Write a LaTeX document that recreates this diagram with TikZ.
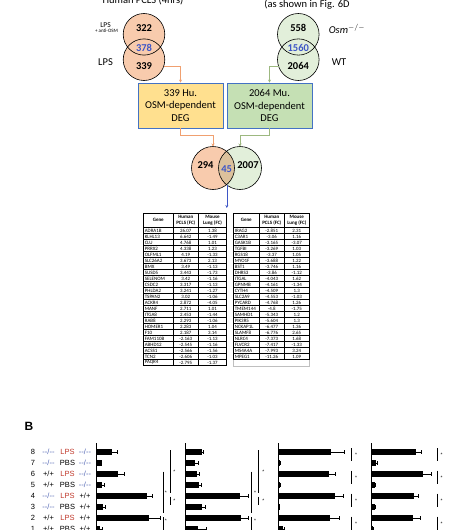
\documentclass[tikz,border=0pt]{standalone}
\usepackage{fontspec}
\setmainfont{Carlito}
\newfontfamily\arialfont{Liberation Sans}
\usetikzlibrary{arrows.meta}

\definecolor{hufill}{HTML}{F8CBAD}
\definecolor{mufill}{HTML}{E2EFDA}
\definecolor{bothfill}{HTML}{DCC19C}
\definecolor{huboxfill}{HTML}{FFE08F}
\definecolor{muboxfill}{HTML}{C5E0B4}
\definecolor{boxblue}{HTML}{4472C4}
\definecolor{huline}{HTML}{F0A070}
\definecolor{muline}{HTML}{9DB880}
\definecolor{numblue}{HTML}{3E56C6}
\definecolor{lpsred}{HTML}{C0392B}
\definecolor{koblue}{HTML}{4A5FB0}

\newcommand{\ko}{{\color{koblue}--/--}}
\newcommand{\wt}{+/+}
\newcommand{\lps}{{\color{lpsred}LPS}}
\newcommand{\pbs}{PBS}

\begin{document}
\begin{tikzpicture}[x=1pt, y=-1pt,
  vennnum/.style={font=\fontsize{10.5}{12}\selectfont\bfseries, inner sep=0pt},
  bothnum/.style={vennnum, text=numblue},
  degbox/.style={draw=boxblue, line width=0.9pt, minimum width=85pt, minimum height=45pt,
    align=center, inner sep=1pt, font=\fontsize{10.5}{12.5}\selectfont},
  feed/.style={line width=0.6pt, -{Stealth[length=3pt,width=3pt]}},
  genecell/.style={anchor=west, inner sep=0pt, font=\fontsize{5}{5}\selectfont},
  numcell/.style={inner sep=0pt, font=\fontsize{4.9}{5}\selectfont},
  headcell/.style={inner sep=0pt, align=center, font=\fontsize{5}{5.6}\selectfont\bfseries},
  rowlab/.style={inner sep=0pt, font=\arialfont\fontsize{7.5}{8}\selectfont},
  errbar/.style={line width=0.6pt},
  sigline/.style={line width=0.8pt},
  star/.style={inner sep=0pt, font=\arialfont\fontsize{5}{5}\selectfont}]
  \useasboundingbox (0,0) rectangle (457,530);
  \clip (0,0) rectangle (457,530);

  % titles (cut at the top)
  \node[anchor=base, font=\fontsize{10.5}{12}\selectfont] (hutitle) at (143,3) {Human PCLS (4hrs)};
  \node[anchor=base, font=\fontsize{10.5}{12}\selectfont] (mutitle) at (307,7.5) {(as shown in Fig. 6D};

  % human venn
  \fill[hufill] (144,34.3) circle (20.8pt);
  \fill[hufill] (144,59.7) circle (20.8pt);
  \draw[line width=0.6pt] (144,34.3) circle (20.8pt) (144,59.7) circle (20.8pt);
  \node[vennnum] (hutop) at (144,28.3) {322};
  \node[bothnum] (huboth) at (144,47.7) {378};
  \node[vennnum] (hubot) at (144,65.7) {339};
  \node[inner sep=0pt, font=\fontsize{7.5}{8}\selectfont] (hulps1) at (105.5,25) {LPS};
  \node[inner sep=0pt, font=\fontsize{5}{5}\selectfont] (huanti) at (106.5,31) {+ anti-OSM};
  \node[inner sep=0pt, font=\fontsize{10.5}{12}\selectfont] (hulps2) at (105.5,62) {LPS};

  % mouse venn
  \fill[mufill] (298.3,34.3) circle (20.8pt);
  \fill[mufill] (298.3,59.7) circle (20.8pt);
  \draw[line width=0.6pt] (298.3,34.3) circle (20.8pt) (298.3,59.7) circle (20.8pt);
  \node[vennnum] (mutop) at (298.3,28.3) {558};
  \node[bothnum] (muboth) at (298.3,47.7) {1560};
  \node[vennnum] (mubot) at (298.3,65.7) {2064};
  \node[inner sep=0pt, font=\fontsize{10.5}{12}\selectfont\itshape] (muko) at (347,29.3) {Osm$^{-/-}$};
  \node[inner sep=0pt, font=\fontsize{10.5}{12}\selectfont] (muwt) at (339,62) {WT};

  % DEG boxes
  \node[degbox, fill=huboxfill] (hudeg) at (180.5,105.5) {339 Hu.\\OSM-dependent\\DEG};
  \node[degbox, fill=muboxfill] (mudeg) at (269.5,105.5) {2064 Mu.\\OSM-dependent\\DEG};
  \coordinate (huout) at (164,66);
  \coordinate (muout) at (278.5,66);
  \draw[feed, huline] (huout) -| (hudeg.north);
  \draw[feed, muline] (muout) -| (mudeg.north);

  % comparison venn
  \coordinate (cmpl) at (213,146.5);
  \coordinate (cmpr) at (240,146.5);
  \fill[hufill] (213,168) circle (21.5pt);
  \fill[mufill] (240,168) circle (21.5pt);
  \begin{scope}
    \clip (213,168) circle (21.5pt);
    \fill[bothfill] (240,168) circle (21.5pt);
  \end{scope}
  \draw[line width=0.6pt] (213,168) circle (21.5pt) (240,168) circle (21.5pt);
  \node[vennnum] (cmphu) at (205.5,165) {294};
  \node[bothnum] (cmpboth) at (226.7,169.5) {45};
  \node[vennnum] (cmpmu) at (248,165) {2007};
  \draw[feed, huline] (hudeg.south) -- ++(0,7) -| (cmpl);
  \draw[feed, muline] (mudeg.south) -- ++(0,7) -| (cmpr);
  \coordinate (cmpout) at (226.8,185);
  \coordinate (tabin) at (226.8,208);
  \draw[feed, numblue] (cmpout) -- (tabin);

  % gene tables
  \node[headcell] (lhg) at (158.3,220.3) {Gene};
  \node[headcell] (lhh) at (185.8,220.3) {Human\\PCLS (FC)};
  \node[headcell] (lhm) at (212.5,220.3) {Mouse\\Lung (FC)};
  \foreach \g/\h/\m [count=\i] in {ADRA1B/26.07/1.38, KLHL13/6.642/-1.49, CLU/4.768/1.01,
      PRRX2/4.338/1.23, OLFML1/4.19/-1.33, SLC26A2/3.673/2.13, BMX/3.49/-1.13,
      SUSD5/3.443/-1.73, SELENOM/3.42/-1.16, CSDC2/3.317/-1.13, PHLDA2/3.241/-1.27,
      TSPAN2/3.02/-1.06, ACKR4/2.872/-4.05, MANF/2.711/1.01, ITGA8/2.453/-1.44,
      RAB8/2.293/-1.06, HOMER1/2.283/1.04, F10/2.187/3.14, FAM110B/-2.163/-1.13,
      ABHD12/-2.545/-1.16, ACSS1/-2.566/-1.56, TCN2/-2.606/-1.03, PAQR4/-2.795/-1.37} {
    \node[genecell] (lg\i) at (144.6,224.7+6*\i) {\g};
    \node[numcell] (lh\i) at (185.8,224.7+6*\i) {\h};
    \node[numcell] (lm\i) at (212.5,224.7+6*\i) {\m};
  }
  \foreach \i in {0,...,23}
    \draw[line width=0.45pt] (143.3,227.7+6*\i) -- (226.7,227.7+6*\i);
  \draw[line width=0.45pt] (143.3,213) -- (226.7,213);
  \foreach \x in {143.3,173.3,198.3,226.7}
    \draw[line width=0.45pt] (\x,213) -- (\x,365.7);

  \node[headcell] (rhg) at (246.3,220.3) {Gene};
  \node[headcell] (rhh) at (271.8,220.3) {Human\\PCLS (FC)};
  \node[headcell] (rhm) at (296.8,220.3) {Mouse\\Lung (FC)};
  \foreach \g/\h/\m [count=\i] in {IRAG2/-2.851/2.31, C3AR1/-3.06/1.16, GASK1B/-3.165/-3.07,
      TGFBI/-3.269/1.03, RGS18/-3.37/1.05, MYO1F/-3.688/1.22, BST1/-3.746/1.16,
      DHRS3/-3.86/-1.12, ITGAL/-4.043/1.62, GPNMB/-4.161/-1.34, CYTH4/-4.509/1.3,
      SLC2A9/-4.553/-1.03, PYCARD/-4.768/1.26, TMEM144/-4.8/-1.75, SAMHD1/-5.343/1.2,
      PIK3R5/-5.604/1.3, NCKAP1L/-6.477/1.36, SLAMF8/-6.776/2.65, NLRC4/-7.373/1.68,
      FLVCR2/-7.417/-1.33, MS4A4A/-7.993/3.24, MPEG1/-11.26/1.09} {
    \node[genecell] (rg\i) at (234.6,224.7+6*\i) {\g};
    \node[numcell] (rh\i) at (271.8,224.7+6*\i) {\h};
    \node[numcell] (rm\i) at (296.8,224.7+6*\i) {\m};
  }
  \foreach \i in {0,...,22}
    \draw[line width=0.45pt] (233.3,227.7+6*\i) -- (309.3,227.7+6*\i);
  \draw[line width=0.45pt] (233.3,213) -- (309.3,213);
  \foreach \x in {233.3,259.3,284.3,309.3}
    \draw[line width=0.45pt] (\x,213) -- (\x,359.7);
  \draw[black!25, line width=0.4pt] (233.3,359.7) -- (233.3,365.7) -- (309.3,365.7) -- (309.3,359.7);

  % panel B
  \node[inner sep=0pt, font=\arialfont\fontsize{12}{12}\selectfont\bfseries] (blabel) at (29,426.7) {B};
  \foreach \r/\ga/\tr/\gb in {8/\ko/\lps/\ko, 7/\ko/\pbs/\ko, 6/\wt/\lps/\ko, 5/\wt/\pbs/\ko,
      4/\ko/\lps/\wt, 3/\ko/\pbs/\wt, 2/\wt/\lps/\wt, 1/\wt/\pbs/\wt} {
    \node[rowlab] (num\r) at (33,540-11*\r) {\r};
    \node[rowlab] (gena\r) at (48.5,540-11*\r) {\ga};
    \node[rowlab] (trt\r) at (67.5,540-11*\r) {\tr};
    \node[rowlab] (genb\r) at (85,540-11*\r) {\gb};
  }

  % bars, panel 1 to 4
  \foreach \r/\v/\e in {8/112/117, 7/101.7/101.7, 6/118.3/124.3, 5/101.7/104.3,
      4/146.7/152.3, 3/102.7/105.3, 2/149/160.7, 1/100/102} {
    \fill (96.7,536.7-11*\r) rectangle (\v,543.3-11*\r);
    \draw[errbar] (\v,540-11*\r) -- (\e,540-11*\r) ++(0,-2) -- ++(0,4);
  }
  \foreach \r/\v/\e in {8/201.7/203.3, 7/195/198.3, 6/196.7/199.3, 5/199.3/201.7,
      4/240/248.3, 3/201.7/205.7, 2/241/248.3, 1/198.3/206} {
    \fill (185.7,536.7-11*\r) rectangle (\v,543.3-11*\r);
    \draw[errbar] (\v,540-11*\r) -- (\e,540-11*\r) ++(0,-2) -- ++(0,4);
  }
  \foreach \r/\v/\e in {8/331/344.3, 7/280/280, 6/329.3/335.7, 5/280/280,
      4/335/343, 3/279.7/279.7, 2/330/339.7, 1/283/284} {
    \fill (278.3,536.7-11*\r) rectangle (\v,543.3-11*\r);
    \draw[errbar] (\v,540-11*\r) -- (\e,540-11*\r) ++(0,-2) -- ++(0,4);
  }
  \foreach \r/\v/\e in {8/415.7/421.7, 7/376/377, 6/422.7/431.7, 5/375/375,
      4/414/418.3, 3/375/375, 2/413.3/420, 1/373/373} {
    \fill (371.7,536.7-11*\r) rectangle (\v,543.3-11*\r);
    \draw[errbar] (\v,540-11*\r) -- (\e,540-11*\r) ++(0,-2) -- ++(0,4);
  }
  \foreach \x in {96.7,185.7,278.3,371.7}
    \draw[line width=1.3pt] (\x,443) -- (\x,535);

  % significance marks
  \draw[sigline] (170.7,450) -- (170.7,493.3) (170.7,496.7) -- (170.7,505);
  \draw[sigline] (163.3,471.7) -- (163.3,513) (163.3,517) -- (163.3,532);
  \node[star] (s11) at (174.3,471.7) {*};
  \node[star] (s12) at (174.3,501) {*};
  \node[star] (s13) at (165.9,492.3) {*};
  \node[star] (s14) at (165.9,520.5) {*};
  \draw[sigline] (258.3,450) -- (258.3,493.3) (258.3,496.7) -- (258.3,505);
  \draw[sigline] (251.7,471.7) -- (251.7,513) (251.7,517) -- (251.7,532);
  \node[star] (s21) at (263.3,471.7) {*};
  \node[star] (s22) at (263.3,501) {*};
  \node[star] (s23) at (255,492.3) {*};
  \node[star] (s24) at (255,520.5) {*};
  \foreach \y [count=\k] in {448,470.5,493.5,516.5} {
    \draw[sigline] (351.7,\y) -- (351.7,\y+13);
    \node[star] (s3\k) at (356,\y+7) {*};
    \draw[sigline] (437.3,\y) -- (437.3,\y+13);
    \node[star] (s4\k) at (441.7,\y+7) {*};
  }
\end{tikzpicture}
\end{document}
